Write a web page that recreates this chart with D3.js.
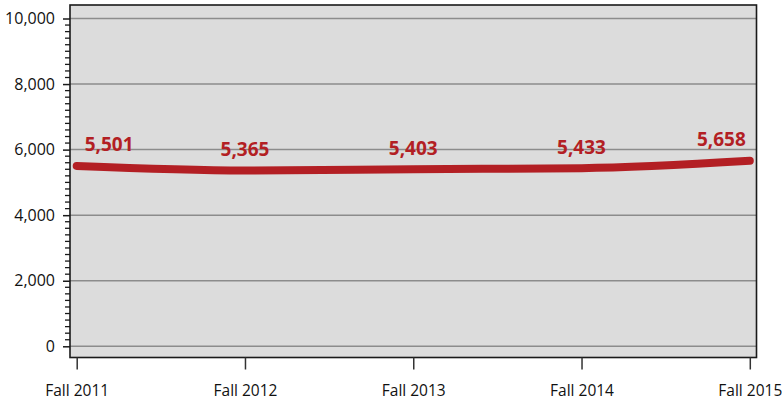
<!DOCTYPE html>
<html>
<head>
<meta charset="utf-8">
<script src="https://cdn.jsdelivr.net/npm/d3@7"></script>
<style>
  html, body { margin: 0; padding: 0; background: #fff; }
  svg { display: block; }
</style>
</head>
<body>
<svg id="chart" width="782" height="403"></svg>
<script>
const categories = ["Fall 2011", "Fall 2012", "Fall 2013", "Fall 2014", "Fall 2015"];
const values = [5501, 5365, 5403, 5433, 5658];
const yTickValues = [0, 2000, 4000, 6000, 8000, 10000];

const svg = d3.select("#chart");
const frame = { left: 70, right: 756.5, top: 5, bottom: 357.5 };

const x = d3.scalePoint().domain(categories).range([76.7, 749.8]);
const y = d3.scaleLinear().domain([0, 10000]).range([346.3, 18.5]);

// plot background
svg.append("rect")
  .attr("x", frame.left).attr("y", frame.top)
  .attr("width", frame.right - frame.left).attr("height", frame.bottom - frame.top)
  .attr("fill", "#dcdcdc");

// gridlines
svg.append("g").selectAll("line").data(yTickValues).join("line")
  .attr("x1", frame.left).attr("x2", frame.right)
  .attr("y1", d => y(d)).attr("y2", d => y(d))
  .attr("stroke", "#8c8c8c").attr("stroke-width", 1.5);

// frame
svg.append("rect")
  .attr("x", frame.left).attr("y", frame.top)
  .attr("width", frame.right - frame.left).attr("height", frame.bottom - frame.top)
  .attr("fill", "none").attr("stroke", "#1a1a1a").attr("stroke-width", 1.6);

// y axis
const yAxis = d3.axisLeft(y).tickValues(yTickValues)
  .tickFormat(d3.format(",")).tickSize(7).tickPadding(8);
const gy = svg.append("g").attr("transform", `translate(${frame.left},0)`).call(yAxis);
gy.select(".domain").remove();
gy.selectAll(".tick line").attr("stroke", "#1a1a1a").attr("stroke-width", 1.5);
gy.selectAll(".tick text")
  .attr("font-family", "'Open Sans', sans-serif").attr("font-size", 16).attr("fill", "#111");

// minor ticks
const minor = d3.range(0, 10001, 200).filter(v => v % 2000 !== 0);
svg.append("g").selectAll("line").data(minor).join("line")
  .attr("x1", frame.left - 5).attr("x2", frame.left)
  .attr("y1", d => y(d)).attr("y2", d => y(d))
  .attr("stroke", "#1a1a1a").attr("stroke-width", 1.3);

// x axis
const xAxis = d3.axisBottom(x).tickSize(12).tickPadding(15);
const gx = svg.append("g").attr("transform", `translate(0,${frame.bottom})`).call(xAxis);
gx.select(".domain").remove();
gx.selectAll(".tick line").attr("stroke", "#333").attr("stroke-width", 1.5);
gx.selectAll(".tick text")
  .attr("font-family", "'Open Sans', sans-serif").attr("font-size", 15.5).attr("fill", "#111");

// line
const data = categories.map((c, i) => ({ c, v: values[i] }));
const line = d3.line().x(d => x(d.c)).y(d => y(d.v)).curve(d3.curveMonotoneX);
svg.append("path").datum(data)
  .attr("d", line)
  .attr("fill", "none").attr("stroke", "#b31f24")
  .attr("stroke-width", 8).attr("stroke-linecap", "round").attr("stroke-linejoin", "round");

// value labels
svg.append("g").selectAll("text").data(data).join("text")
  .attr("x", (d, i) => i === 0 ? x(d.c) + 8 : i === data.length - 1 ? x(d.c) - 4 : x(d.c))
  .attr("y", d => y(d.v) - 14.5)
  .attr("text-anchor", (d, i) => i === 0 ? "start" : i === data.length - 1 ? "end" : "middle")
  .attr("font-family", "'Open Sans', sans-serif").attr("font-weight", "bold")
  .attr("font-size", 19).attr("fill", "#b31f24")
  .text(d => d3.format(",")(d.v));
</script>
</body>
</html>
